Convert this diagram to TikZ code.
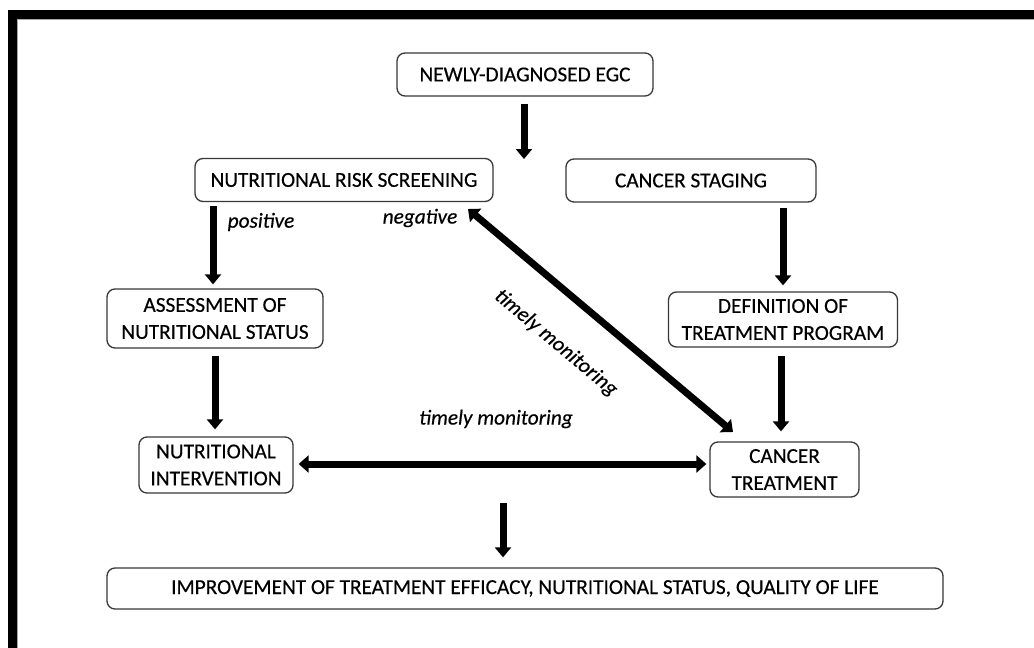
\documentclass[tikz,border=0pt]{standalone}
\usepackage{fontspec}
\setmainfont{Carlito}[FakeBold=0.4]
\usetikzlibrary{arrows.meta}
\begin{document}
\begin{tikzpicture}[x=1pt,y=-1pt,
  box/.style={draw=black!78, line width=1.3pt, rounded corners=8pt, align=center,
    inner sep=0pt, font=\fontsize{21.3}{27}\selectfont},
  lbl/.style={font=\fontsize{21.3}{25}\selectfont\itshape, inner sep=0pt},
  bigarrow/.style={line width=7pt, -{Triangle[width=16pt,length=10pt]}, draw=black},
  dblarrow/.style={line width=7pt, {Triangle[width=17pt,length=10pt]}-{Triangle[width=17pt,length=10pt]}, draw=black}]
\useasboundingbox (0,0) rectangle (1034,648);
\clip (0,0) rectangle (1034,648);
\fill[white] (0,0) rectangle (1034,648);
\draw[line width=9pt] (12.5,14.5) rectangle (1080,700);
\draw[black!35, line width=1pt] (17.5,700) |- (1080,19.5);

\node[box, minimum width=256pt, minimum height=43pt] (egc) at (525,74.5) {NEWLY-DIAGNOSED EGC};
\node[box, minimum width=298pt, minimum height=43pt] (nrs) at (344,180) {NUTRITIONAL RISK SCREENING};
\node[box, minimum width=250pt, minimum height=43pt] (stg) at (691,180.5) {CANCER STAGING};
\node[box, minimum width=216pt, minimum height=59pt] (ass) at (215,318.5) {ASSESSMENT OF\\NUTRITIONAL STATUS};
\node[box, minimum width=229pt, minimum height=55pt] (def) at (783,319.5) {DEFINITION OF\\TREATMENT PROGRAM};
\node[box, minimum width=154pt, minimum height=56pt] (int) at (216,465) {NUTRITIONAL\\INTERVENTION};
\node[box, minimum width=149pt, minimum height=55pt] (ctr) at (784.5,469.5) {CANCER\\TREATMENT};
\node[box, minimum width=836pt, minimum height=41pt] (imp) at (525,588.5) {IMPROVEMENT OF TREATMENT EFFICACY, NUTRITIONAL STATUS, QUALITY OF LIFE};

\coordinate (split) at (524,159);
\coordinate (merge) at (503,503);
\coordinate (d1) at (468,209);
\coordinate (d2) at (733,432);

\draw[bigarrow] ([yshift=-7pt]egc.south -| split) -- (split);
\draw[bigarrow] ([yshift=-4pt]nrs.south -| 213,0) -- ([yshift=4pt]ass.north -| 213,0);
\draw[bigarrow] ([yshift=-5pt]stg.south -| 783,0) -- ([yshift=6pt]def.north -| 783,0);
\draw[bigarrow] ([yshift=-7pt]ass.south) -- ([yshift=7pt]ass.south |- int.north);
\draw[bigarrow] ([yshift=-8pt]def.south -| 781,0) -- ([yshift=10pt]ctr.north -| 781,0);
\draw[dblarrow] ([xshift=5pt]int.east |- 0,464) -- ([xshift=-3pt]ctr.west |- 0,464);
\draw[dblarrow] (d1) -- (d2);
\draw[bigarrow] (merge) -- ([yshift=10pt]merge |- imp.north);

\node[lbl] (pos) at (261,222) {positive};
\node[lbl] (neg) at (420,218) {negative};
\node[lbl] (tm1) at (496,419) {timely monitoring};
\node[lbl, rotate=-40] (tm2) at (556,343) {timely monitoring};
\end{tikzpicture}
\end{document}
